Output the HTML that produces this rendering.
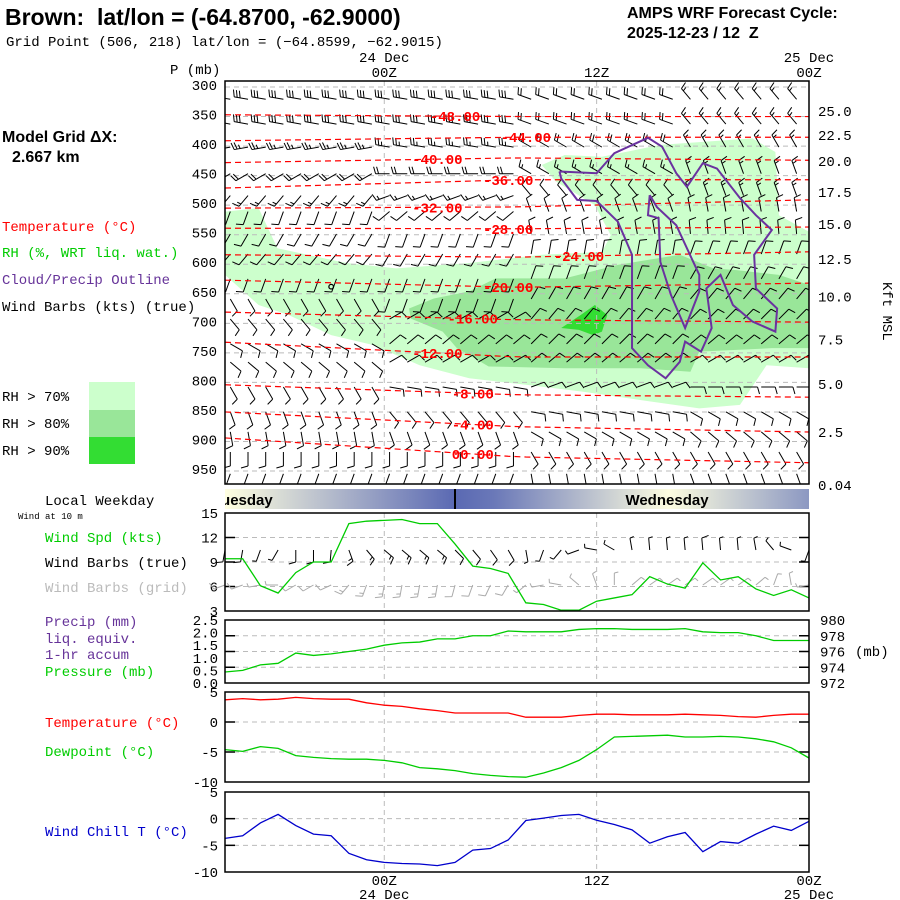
<!DOCTYPE html>
<html><head><meta charset="utf-8">
<style>
html,body{margin:0;padding:0;background:#fff;}
body{width:900px;height:900px;overflow:hidden;position:relative;}
svg{position:absolute;left:0;top:0;}
.m{font-family:"Liberation Mono",monospace;font-size:14px;}
.b{font-family:"Liberation Sans",sans-serif;font-weight:bold;}
</style></head>
<body>
<svg id="chart" width="900" height="900" viewBox="0 0 900 900">
<defs>
<linearGradient id="wk" x1="225" x2="809" y1="0" y2="0" gradientUnits="userSpaceOnUse">
<stop offset="0" stop-color="#ffffe0"/><stop offset="0.394" stop-color="#5a69b3"/>
<stop offset="0.46" stop-color="#6a78b8"/><stop offset="0.76" stop-color="#fdfde0"/>
<stop offset="1" stop-color="#8c98c2"/></linearGradient>
<clipPath id="mainclip"><rect x="225" y="81" width="584" height="403"/></clipPath>
<clipPath id="wkclip"><rect x="225" y="489" width="584" height="20"/></clipPath>
</defs>
<g>
<text x="5" y="25" class="b" font-size="23" xml:space="preserve">Brown:  lat/lon = (-64.8700, -62.9000)</text>
<text x="6" y="46" class="m" font-size="14">Grid Point (506, 218) lat/lon = (−64.8599, −62.9015)</text>
<text x="627" y="18" class="b" font-size="16">AMPS WRF Forecast Cycle:</text>
<text x="627" y="38" class="b" font-size="16" xml:space="preserve">2025-12-23 / 12  Z</text>
<text x="2" y="142" class="b" font-size="16">Model Grid ΔX:</text>
<text x="12" y="162" class="b" font-size="16">2.667 km</text>
</g>
<g class="m">
<text x="2" y="231" fill="#f00">Temperature (°C)</text>
<text x="2" y="257" fill="#0c0">RH (%, WRT liq. wat.)</text>
<text x="2" y="284" fill="#639">Cloud/Precip Outline</text>
<text x="2" y="311" fill="#000">Wind Barbs (kts) (true)</text>
<rect x="89" y="382" width="46" height="28" fill="#ccffcc"/>
<rect x="89" y="410" width="46" height="27" fill="#99e699"/>
<rect x="89" y="437" width="46" height="27" fill="#33dd33"/>
<text x="2" y="401">RH &gt; 70%</text>
<text x="2" y="428">RH &gt; 80%</text>
<text x="2" y="455">RH &gt; 90%</text>
<text x="45" y="505">Local Weekday</text>
<text x="18" y="519" font-size="9">Wind at 10 m</text>
<text x="45" y="542" fill="#0c0">Wind Spd (kts)</text>
<text x="45" y="567">Wind Barbs (true)</text>
<text x="45" y="592" fill="#bbb">Wind Barbs (grid)</text>
<text x="45" y="626" fill="#639">Precip (mm)</text>
<text x="45" y="643" fill="#639">liq. equiv.</text>
<text x="45" y="659" fill="#639">1-hr accum</text>
<text x="45" y="676" fill="#0c0">Pressure (mb)</text>
<text x="45" y="727" fill="#f00">Temperature (°C)</text>
<text x="45" y="756" fill="#0c0">Dewpoint (°C)</text>
<text x="45" y="836" fill="#00c">Wind Chill T (°C)</text>
</g>
<g id="main"></g>
<g id="lower"></g>
</svg>
<script>
// ---- data ----
const hours = [];
for (let i = 0; i < 34; i++) hours.push(i); // hours from 15Z 23 Dec
const windSpd = [9.4,9.4,6.1,5.2,7.7,9.0,9.0,13.7,14.0,14.1,14.2,13.7,13.7,11.2,8.5,8.2,7.6,4.0,3.8,3.1,3.1,4.2,4.6,5.0,7.2,6.3,5.8,8.9,6.8,7.2,5.7,4.9,5.6,4.6];
const windDirTrue = [190,190,200,210,180,180,185,160,140,130,130,130,130,135,140,145,150,170,200,220,250,280,300,350,355,355,355,355,355,355,350,320,290,200];
const windDirGrid = [250,250,260,270,240,240,245,220,200,190,190,190,190,195,200,205,210,230,260,280,310,340,0,50,55,55,55,55,55,55,50,20,350,260];
const pressure = [973.4,973.6,974.3,974.5,975.8,975.5,975.7,976.0,976.3,976.8,977.1,977.2,977.6,977.6,978.0,978.0,978.6,978.5,978.5,978.5,978.8,978.9,978.9,978.8,978.8,978.8,978.9,978.5,978.4,978.4,978.0,977.4,977.4,977.4];
const temperature = [3.7,3.9,3.7,3.8,4.1,3.9,3.8,3.8,3.2,2.8,2.6,2.2,1.9,1.5,1.5,1.5,1.5,0.8,0.8,0.8,1.1,1.3,1.3,1.2,1.2,1.2,1.3,1.2,1.1,0.9,0.8,1.1,1.3,1.3];
const dewpoint = [-4.6,-4.9,-4.1,-4.4,-5.6,-5.9,-6.1,-6.2,-6.2,-6.4,-6.8,-7.6,-7.8,-8.1,-8.6,-8.9,-9.1,-9.2,-8.5,-7.6,-6.4,-4.6,-2.5,-2.4,-2.3,-2.2,-2.5,-2.5,-2.4,-2.5,-2.8,-3.3,-4.3,-6.0];
const windChill = [-3.7,-3.2,-0.8,0.8,-1.3,-2.9,-3.2,-6.5,-7.7,-8.2,-8.4,-8.5,-8.8,-8.2,-5.9,-5.6,-4.0,-0.35,0.1,0.6,0.8,-0.3,-1.1,-2.1,-4.6,-3.4,-2.6,-6.2,-4.3,-4.6,-2.9,-1.4,-2.2,-0.5];
const precipTicks = [2.5,2.0,1.5,1.0,0.5,0.0];
const presTicks = [980,978,976,974,972];
// upper air
const pTicks = [300,350,400,450,500,550,600,650,700,750,800,850,900,950];
const kftTicks = ["25.0","22.5","20.0","17.5","15.0","12.5","10.0","7.5","5.0","2.5","0.04"];
const kftPress = [341,381,425,478,532,591,655,727,803,884,974];
const barbLevels = [314,356,395,440,477,504,542,576,618,652,686,728,759,801,843,877,911,948];
const barbDirs = [[280,280,290,320],[280,280,290,320],[260,280,300,330],[240,270,300,340],[220,250,320,340],[200,230,340,350],[210,200,350,355],[220,210,10,20],[200,200,20,30],[150,200,30,40],[140,60,40,45],[120,50,45,50],[130,60,50,60],[150,100,70,90],[160,140,100,120],[170,160,120,130],[180,180,150,150],[200,200,170,160]];
const barbSpds = [[30,30,20,15],[30,30,20,15],[25,25,20,15],[20,20,15,15],[15,15,10,15],[10,10,10,10],[10,10,10,10],[10,10,10,10],[10,10,10,10],[10,10,10,10],[10,10,10,10],[10,10,10,10],[10,10,10,10],[10,10,10,10],[10,10,10,10],[10,10,10,10],[10,10,10,10],[10,10,10,10]];
const contourVals = [-48,-44,-40,-36,-32,-28,-24,-20,-16,-12,-8,-4,0];
const contourPLeft = [347,391,428,471,505,539,584,627,681,732,804,850,894];
const contourPMid = [350,385,420,457,503,540,588,639,694,757,821,875,926];
const contourPRight = [350,385,424,457,491,537,579,632,698,757,825,884,936];
const contourLabelHour = [13,17,12,16,12,16,20,16,14,12,14,14,14];
const rh70 = [[0,511],[1.9,505],[2.96,573],[6.85,598],[9.66,607],[13.8,598],[17.9,584],[21.3,579],[21.8,551],[20.9,500],[18.7,460],[17.9,432],[19.2,415],[21.3,418],[24.6,398],[29.8,387],[31.1,410],[31.3,517],[33,545],[33,776],[30.6,771],[29.1,838],[26.8,844],[23.5,830],[20.3,816],[17.0,804],[13.8,793],[11.0,771],[8.4,737],[6.0,720],[3.6,686],[1.9,669],[0,618]];
const rh80 = [[10.4,675],[11.8,658],[13.8,646],[15.3,624],[19.2,624],[22.2,601],[25.7,584],[27.6,607],[28.9,610],[31.3,618],[33,635],[33,742],[30.9,742],[26.8,748],[26.3,782],[23.5,776],[19.2,776],[14.9,773],[13.1,742],[12.3,714],[10.5,692]];
const rh90 = [[19.0,708],[20.1,686],[20.9,669],[21.6,686],[21.3,714],[20.8,720],[20.0,711]];
const cloudA = [[18.9,443],[19.0,455],[19.9,491],[21.0,493],[22.2,528],[23.0,584],[23.0,675],[23.0,742],[23.9,771],[24.9,793],[25.7,765],[26.0,731],[26.9,748],[27.5,708],[27.2,641],[28.0,618],[28.7,669],[29.8,697],[31.1,714],[31.2,675],[30.0,641],[29.9,584],[30.9,542],[30.0,517],[29.1,488],[27.8,438],[27.0,429],[26.1,469],[25.5,446],[24.7,401],[23.9,386],[22.0,412],[21.0,446],[18.9,443]];
const cloudB = [[24.0,483],[24.4,503],[25.5,534],[26.8,618],[26.8,646],[26.0,708],[25.2,652],[24.6,596],[24.5,522],[23.9,517],[24.0,483]];

// ---- helpers ----
const NS = "http://www.w3.org/2000/svg";
const X = h => 225 + h * (584 / 33);
const Y = p => 87 + (p - 300) * 0.5908;
function mk(parent, tag, attrs) {
  const e = document.createElementNS(NS, tag);
  for (const k in attrs) e.setAttribute(k, attrs[k]);
  parent.appendChild(e);
  return e;
}
function txt(parent, x, y, s, attrs) {
  const t = mk(parent, "text", Object.assign({x: x, y: y, class: "m"}, attrs || {}));
  t.textContent = s;
  return t;
}
function barb(g, x, y, dir, spd, color, L) {
  const r = dir * Math.PI / 180;
  const ux = Math.sin(r), uy = -Math.cos(r);
  const px = -uy, py = ux;
  const tx = x + ux * L, ty = y + uy * L;
  let d = `M${x},${y}L${tx},${ty}`;
  let s = Math.round(spd / 5) * 5, pos = 0;
  while (s >= 10) {
    const bx = tx - ux * pos, by = ty - uy * pos;
    d += `M${bx},${by}L${bx + px * 7 + ux * 2},${by + py * 7 + uy * 2}`;
    s -= 10; pos += 3;
  }
  if (s >= 5) {
    const bx = tx - ux * pos, by = ty - uy * pos;
    d += `M${bx},${by}L${bx + px * 4 + ux * 1},${by + py * 4 + uy * 1}`;
  }
  const p = mk(g, "path", {d: d, stroke: color, "stroke-width": 1, fill: "none"});
  
  
}

// ---- main panel ----
const main = document.getElementById("main");
const clipG = mk(main, "g", {"clip-path": "url(#mainclip)"});
function poly(pts, fill, stroke) {
  return mk(clipG, "polygon", {points: pts.map(q => X(q[0]) + "," + Y(q[1])).join(" "), fill: fill, stroke: stroke || "none"});
}
const s70 = poly(rh70, "#ccffcc");


const s80 = poly(rh80, "#99e699");


const s90 = poly(rh90, "#33dd33");


pTicks.forEach(p => {
  const l = mk(clipG, "line", {x1: 225, x2: 809, y1: Y(p), y2: Y(p), stroke: "#bbb", "stroke-dasharray": "5,4"});
  
  
});
[9, 21].forEach(h => {
  const l = mk(clipG, "line", {x1: X(h), x2: X(h), y1: 81, y2: 484, stroke: "#bbb", "stroke-dasharray": "5,4"});
  
  
});
barbLevels.forEach((p, i) => {
  for (let c = 0; c < 33; c++) {
    const seg = Math.min(3, Math.floor(c / 8.5));
    barb(clipG, X(c + 0.3), Y(p) + 4, barbDirs[i][seg], barbSpds[i][seg], "#000", 14);
  }
});
contourVals.forEach((v, i) => {
  const pAt = h => h <= 16.5 ? contourPLeft[i] + (contourPMid[i] - contourPLeft[i]) * h / 16.5
                             : contourPMid[i] + (contourPRight[i] - contourPMid[i]) * (h - 16.5) / 16.5;
  const pts = [];
  for (let h = 0; h <= 33; h += 1) pts.push(X(h) + "," + Y(pAt(h)));
  const l = mk(clipG, "polyline", {points: pts.join(" "), fill: "none", stroke: "#f00", "stroke-width": 1.2, "stroke-dasharray": "6,4"});
  
  
  const h = contourLabelHour[i];
  const t = txt(clipG, X(h), Y(pAt(h)) + 5, v === 0 ? "00.00" : v.toFixed(2), {fill: "#f00", "font-size": 13, "font-weight": "bold", "font-family": "Liberation Sans, sans-serif", "text-anchor": "middle"});
  
  
});
[cloudA, cloudB].forEach(c => {
  const e = mk(clipG, "polyline", {points: c.map(q => X(q[0]) + "," + Y(q[1])).join(" "), fill: "none", stroke: "#6a329f", "stroke-width": 2});
  
  
});
const dot = mk(clipG, "circle", {cx: X(6.0), cy: Y(638), r: 2.3, fill: "none", stroke: "#000", "stroke-width": 1.3});


const frame = mk(main, "rect", {x: 225, y: 81, width: 584, height: 403, fill: "none", stroke: "#000", "stroke-width": 1.5});


pTicks.forEach(p => {
  const t = txt(main, 217, Y(p) + 3, String(p), {"text-anchor": "end"});
  
  
});
kftTicks.forEach((k, i) => {
  const t = txt(main, 818, Y(kftPress[i]) + 5, k, {});
  
  
});
const pmb = txt(main, 170, 74, "P (mb)", {"font-size": 12});


const kft = txt(main, 0, 0, "Kft MSL", {"font-size": 13, transform: "translate(883,282) rotate(90)"});


[[9, "24 Dec", "00Z"], [21, "", "12Z"], [33, "25 Dec", "00Z"]].forEach(a => {
  if (a[1]) {
    const t1 = txt(main, X(a[0]), 62, a[1], {"text-anchor": "middle"});
    
    
  }
  const t2 = txt(main, X(a[0]), 77, a[2], {"text-anchor": "middle"});
  
  
});

// ---- lower panels ----
const low = document.getElementById("lower");
const wkG = mk(low, "g", {"clip-path": "url(#wkclip)"});
const wk = mk(wkG, "rect", {x: 225, y: 489, width: 584, height: 20, fill: "url(#wk)"});


mk(wkG, "line", {x1: 455, x2: 455, y1: 489, y2: 509, stroke: "#000", "stroke-width": 2});
const tue = mk(wkG, "text", {x: 213, y: 505, class: "b", "font-size": 15});
tue.textContent = "Tuesday";


const wed = mk(wkG, "text", {x: 667, y: 505, class: "b", "font-size": 15, "text-anchor": "middle"});
wed.textContent = "Wednesday";



function panel(name, top, bot, vmin, vmax, ticks, tickLabels, gridVals) {
  const g = mk(low, "g", {});
  
  
  const yf = v => top + (vmax - v) * (bot - top) / (vmax - vmin);
  gridVals.forEach(v => {
    mk(g, "line", {x1: 225, x2: 809, y1: yf(v), y2: yf(v), stroke: "#bbb", "stroke-dasharray": "5,4"});
    mk(g, "line", {x1: 225, x2: 235, y1: yf(v), y2: yf(v), stroke: "#000", "stroke-width": 1.5});
    mk(g, "line", {x1: 799, x2: 809, y1: yf(v), y2: yf(v), stroke: "#000", "stroke-width": 1.5});
  });
  [9, 21].forEach(h => mk(g, "line", {x1: X(h), x2: X(h), y1: top, y2: bot, stroke: "#bbb", "stroke-dasharray": "5,4"}));
  ticks.forEach((v, i) => {
    const t = txt(g, 218, yf(v) + 5, tickLabels[i], {"text-anchor": "end", "font-size": 12});
    
    
  });
  return {g: g, yf: yf};
}
function series(pn, vals, color, name) {
  const e = mk(pn.g, "polyline", {points: vals.map((v, i) => X(hours[i]) + "," + pn.yf(v)).join(" "), fill: "none", stroke: color, "stroke-width": 1.3});
  
  
}
function frameP(pn, top, bot) {
  const r = mk(pn.g, "rect", {x: 225, y: top, width: 584, height: bot - top, fill: "none", stroke: "#000", "stroke-width": 1.5});
  
  
}
const pw = panel("wind-panel", 513, 611, 3, 15, [15,12,9,6,3], ["15","12","9","6","3"], [12,9,6]);
windDirTrue.forEach((d, i) => barb(pw.g, X(hours[i]), 550, d, windSpd[i], "#000", 12));
windDirGrid.forEach((d, i) => barb(pw.g, X(hours[i]), 585, d, windSpd[i], "#aaa", 12));
series(pw, windSpd, "#0c0", "wind-speed-line");
frameP(pw, 513, 611);
// pressure / precip panel
const pp = panel("pressure-panel", 620, 683, 972, 980, [], [], [978,976,974]);
precipTicks.forEach((v, i) => {
  const t = txt(pp.g, 218, 620 + (2.5 - v) * 63 / 2.5 + 5, v.toFixed(1), {"text-anchor": "end", "font-size": 12});
  
  
});
presTicks.forEach(v => {
  const t = txt(pp.g, 820, pp.yf(v) + 5, String(v), {"font-size": 12});
  
  
});
txt(pp.g, 855, 656, "(mb)", {});
series(pp, pressure, "#0c0", "pressure-line");
frameP(pp, 620, 683);
const pt = panel("temperature-panel", 692, 782, -10, 5, [5,0,-5,-10], ["5","0","-5","-10"], [0,-5]);
series(pt, temperature, "#f00", "temperature-line");
series(pt, dewpoint, "#0c0", "dewpoint-line");
frameP(pt, 692, 782);
const pc = panel("wind-chill-panel", 792, 872, -10, 5, [5,0,-5,-10], ["5","0","-5","-10"], [0,-5]);
series(pc, windChill, "#00c", "wind-chill-line");
frameP(pc, 792, 872);
[[9, "00Z", "24 Dec"], [21, "12Z", ""], [33, "00Z", "25 Dec"]].forEach(a => {
  const t = txt(low, X(a[0]), 885, a[1], {"text-anchor": "middle"});
  
  
  if (a[2]) {
    const t2 = txt(low, X(a[0]), 899, a[2], {"text-anchor": "middle"});
    
    
  }
});
</script>
</body></html>
